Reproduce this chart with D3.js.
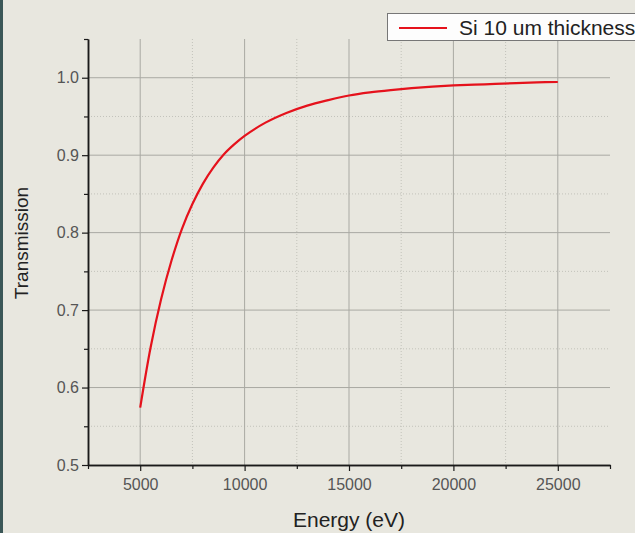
<!DOCTYPE html>
<html>
<head>
<meta charset="utf-8">
<script src="https://cdn.jsdelivr.net/npm/d3@7"></script>
<style>
  body { margin: 0; background: #e8e7df; }
  svg { display: block; font-family: "Liberation Sans", Arial, sans-serif; }
</style>
</head>
<body>
<svg width="635" height="533"></svg>
<script>
// values
var energy = [5000, 5500, 6000, 6500, 7000, 7500, 8000, 8500, 9000, 9500, 10000,
  11000, 12000, 13000, 14000, 15000, 16000, 17000, 18000, 19000, 20000,
  21000, 22000, 23000, 24000, 25000]
var transmission = [0.574, 0.652, 0.714, 0.764, 0.805, 0.837, 0.863, 0.884, 0.901, 0.914, 0.925,
  0.942, 0.9545, 0.964, 0.971, 0.977, 0.981, 0.984, 0.9865, 0.9885, 0.990,
  0.991, 0.992, 0.993, 0.994, 0.9945]
var xTicks = [5000, 10000, 15000, 20000, 25000]
var yTicks = [0.5, 0.6, 0.7, 0.8, 0.9, 1.0]
var xMinor = [2500, 7500, 12500, 17500, 22500, 27500]
var yMinor = [0.55, 0.65, 0.75, 0.85, 0.95, 1.05]
var seriesName = "Si 10 um thickness"

var plotLeft = 88, plotRight = 610, plotTop = 39, plotBottom = 465

var xs = d3.scaleLinear().domain([2500, 27500]).range([plotLeft, plotRight])
var ys = d3.scaleLinear().domain([0.5, 1.05]).range([plotBottom, plotTop])

var svg = d3.select("svg")

svg.append("rect").attr("x", 0).attr("y", 0).attr("width", 3).attr("height", 533).attr("fill", "#3b5757")

// grid
var grid = svg.append("g")
grid.selectAll(".vmin").data(xMinor.slice(1, -1)).enter().append("line")
    .attr("x1", d => xs(d)).attr("x2", d => xs(d)).attr("y1", plotTop).attr("y2", plotBottom)
    .attr("stroke", "#c2c2ba").attr("stroke-dasharray", "1,2")
grid.selectAll(".hmin").data(yMinor.slice(0, -1)).enter().append("line")
    .attr("y1", d => ys(d)).attr("y2", d => ys(d)).attr("x1", plotLeft).attr("x2", plotRight)
    .attr("stroke", "#c2c2ba").attr("stroke-dasharray", "1,2")
grid.selectAll(".vmaj").data(xTicks).enter().append("line")
    .attr("x1", d => xs(d)).attr("x2", d => xs(d)).attr("y1", plotTop).attr("y2", plotBottom)
    .attr("stroke", "#a9a9a3")
grid.selectAll(".hmaj").data(yTicks.slice(1)).enter().append("line")
    .attr("y1", d => ys(d)).attr("y2", d => ys(d)).attr("x1", plotLeft).attr("x2", plotRight)
    .attr("stroke", "#a9a9a3")

// axes
svg.append("g").attr("transform", "translate(0," + plotBottom + ")")
    .call(d3.axisBottom(xs).tickValues(xTicks).tickFormat(d3.format("d")).tickSize(6).tickPadding(8).tickSizeOuter(0))
svg.append("g").attr("transform", "translate(" + plotLeft + ",0)")
    .call(d3.axisLeft(ys).tickValues(yTicks).tickFormat(d3.format(".1f")).tickSize(6).tickPadding(3).tickSizeOuter(0))
svg.append("g").attr("transform", "translate(0," + plotBottom + ")")
    .call(d3.axisBottom(xs).tickValues(xMinor).tickFormat("").tickSize(4).tickSizeOuter(0))
svg.append("g").attr("transform", "translate(" + plotLeft + ",0)")
    .call(d3.axisLeft(ys).tickValues(yMinor).tickFormat("").tickSize(4).tickSizeOuter(0))

svg.selectAll(".domain").attr("stroke", "#1a1a1a").attr("stroke-width", 1.5)
svg.selectAll(".tick line").attr("stroke", "#1a1a1a").attr("stroke-width", 1.2)
svg.selectAll(".tick text").attr("font-size", 16).attr("fill", "#555")
    .attr("font-family", "Liberation Sans, Arial, sans-serif")

// curve
var line = d3.line().x((d, i) => xs(energy[i])).y(d => ys(d)).curve(d3.curveCatmullRom.alpha(0.5))
svg.append("path").datum(transmission).attr("d", line)
    .attr("fill", "none").attr("stroke", "#e5121c").attr("stroke-width", 2.2)

// titles
svg.append("text").attr("x", (plotLeft + plotRight) / 2).attr("y", 527).attr("text-anchor", "middle")
    .attr("font-size", 21).attr("fill", "#222").text("Energy (eV)")
svg.append("text").attr("transform", "translate(28,243) rotate(-90)").attr("text-anchor", "middle")
    .attr("font-size", 19).attr("fill", "#222").text("Transmission")

// legend
var leg = svg.append("g")
leg.append("rect").attr("x", 387.5).attr("y", 13.5).attr("width", 260).attr("height", 27)
    .attr("fill", "#fdfdfd").attr("stroke", "#777")
leg.append("line").attr("x1", 399).attr("x2", 447).attr("y1", 28).attr("y2", 28)
    .attr("stroke", "#e5121c").attr("stroke-width", 2)
leg.append("text").attr("x", 459).attr("y", 35).attr("font-size", 21).attr("fill", "#222").text(seriesName)
</script>
</body>
</html>
